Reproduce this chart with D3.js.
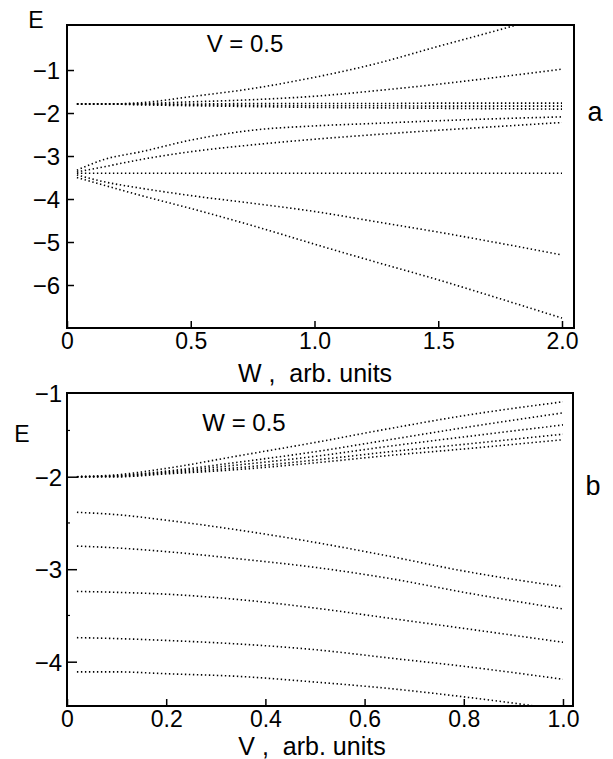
<!DOCTYPE html>
<html>
<head>
<meta charset="utf-8">
<script src="https://cdn.jsdelivr.net/npm/d3@7"></script>
<style>
  body { margin: 0; background: #fff; }
  svg text { font-family: "Liberation Sans", Arial, Helvetica, sans-serif; fill: #000; white-space: pre; }
</style>
</head>
<body>
<div id="vis"></div>
<script>
// panel a: E vs W at V = 0.5
const gridW = [0.04, 0.15, 0.3, 0.5, 0.75, 1.0, 1.25, 1.5, 1.75, 2.0];
const a1 = [-1.79, -1.79, -1.76, -1.62, -1.43, -1.17, -0.85, -0.45, -0.06, 0.35];
const a2 = [-1.79, -1.79, -1.78, -1.74, -1.69, -1.61, -1.48, -1.33, -1.16, -0.98];
const a3 = [-1.79, -1.79, -1.79, -1.79, -1.78, -1.78, -1.78, -1.77, -1.77, -1.77];
const a4 = [-1.79, -1.79, -1.80, -1.81, -1.82, -1.83, -1.83, -1.84, -1.84, -1.84];
const a5 = [-1.79, -1.79, -1.81, -1.83, -1.85, -1.87, -1.88, -1.89, -1.90, -1.91];
const a6 = [-3.33, -3.08, -2.90, -2.63, -2.40, -2.30, -2.24, -2.18, -2.13, -2.09];
const a7 = [-3.37, -3.25, -3.08, -2.90, -2.74, -2.61, -2.50, -2.40, -2.31, -2.22];
const a8 = [-3.40, -3.40, -3.40, -3.40, -3.40, -3.40, -3.40, -3.40, -3.40, -3.40];
const a9 = [-3.44, -3.60, -3.75, -3.92, -4.10, -4.29, -4.53, -4.77, -5.03, -5.30];
const a10 = [-3.50, -3.68, -3.92, -4.22, -4.62, -5.05, -5.47, -5.88, -6.32, -6.77];
const seriesA = [a1, a2, a3, a4, a5, a6, a7, a8, a9, a10];
const ticksWx = [0, 0.5, 1.0, 1.5, 2.0];
const ticksWy = [-1, -2, -3, -4, -5, -6];

// panel b: E vs V at W = 0.5
const gridV = [0.02, 0.1, 0.2, 0.35, 0.5, 0.65, 0.8, 1.0];
const b1 = [-2.0, -1.98, -1.91, -1.77, -1.63, -1.48, -1.34, -1.19];
const b2 = [-2.0, -1.99, -1.94, -1.84, -1.73, -1.60, -1.47, -1.31];
const b3 = [-2.0, -1.99, -1.95, -1.87, -1.78, -1.67, -1.57, -1.44];
const b4 = [-2.0, -2.0, -1.96, -1.90, -1.82, -1.73, -1.65, -1.54];
const b5 = [-2.0, -2.0, -1.97, -1.92, -1.85, -1.77, -1.70, -1.60];
const b6 = [-2.385, -2.41, -2.47, -2.58, -2.71, -2.86, -3.02, -3.19];
const b7 = [-2.75, -2.77, -2.81, -2.89, -2.98, -3.10, -3.25, -3.43];
const b8 = [-3.24, -3.25, -3.27, -3.33, -3.42, -3.53, -3.64, -3.79];
const b9 = [-3.74, -3.75, -3.77, -3.81, -3.87, -3.96, -4.05, -4.19];
const b10 = [-4.11, -4.11, -4.13, -4.16, -4.22, -4.29, -4.38, -4.52];
const seriesB = [b1, b2, b3, b4, b5, b6, b7, b8, b9, b10];
const ticksVx = [0, 0.2, 0.4, 0.6, 0.8, 1.0];
const ticksVy = [-2, -3, -4];
const minorVy = [-1.5, -2.5, -3.5];

const width = 613, height = 759;
const minus = s => s.replace("-", "\u2212");

const svg = d3.select("#vis").append("svg")
  .attr("width", width)
  .attr("height", height);

function drawPanel(opt) {
  const x = d3.scaleLinear().domain(opt.xDomain).range([opt.left, opt.right]);
  const y = d3.scaleLinear().domain(opt.yDomain).range([opt.bottom, opt.top]);
  const g = svg.append("g");

  g.append("clipPath").attr("id", opt.id)
    .append("rect")
    .attr("x", opt.left).attr("y", opt.top)
    .attr("width", opt.right - opt.left).attr("height", opt.bottom - opt.top);

  const line = d3.line()
    .x((d, i) => x(opt.grid[i]))
    .y(d => y(d))
    .curve(d3.curveMonotoneX);

  g.append("g").attr("clip-path", "url(#" + opt.id + ")")
    .selectAll("path")
    .data(opt.series)
    .enter()
    .append("path")
    .attr("d", line)
    .attr("fill", "none")
    .attr("stroke", "#000")
    .attr("stroke-width", 1.6)
    .attr("stroke-dasharray", "1.4 2.6");

  // bottom axis, ticks pointing inward
  const xAxis = g.append("g")
    .attr("transform", "translate(0," + opt.bottom + ")")
    .call(d3.axisBottom(x).tickValues(opt.xTicks).tickSizeInner(-7).tickSizeOuter(0)
      .tickFormat(d => d === 0 ? "0" : d3.format(".1f")(d)));
  xAxis.select(".domain").remove();
  xAxis.selectAll("line").attr("stroke-width", 1.5);
  xAxis.selectAll("text")
    .attr("y", 21)
    .attr("dy", null)
    .attr("font-size", 23)
    .attr("font-family", null);

  const yAxis = g.append("g")
    .attr("transform", "translate(" + opt.left + ",0)")
    .call(d3.axisLeft(y).tickValues(opt.yTicks).tickSizeInner(-opt.yTickLen).tickSizeOuter(0)
      .tickFormat(d => minus(String(d))));
  yAxis.select(".domain").remove();
  yAxis.selectAll("line").attr("stroke-width", 1.5);
  yAxis.selectAll("text")
    .attr("x", -opt.yLabelGap)
    .attr("dy", "0.36em")
    .attr("font-size", 24)
    .attr("font-family", null);

  if (opt.minor) {
    g.selectAll(".minor")
      .data(opt.minor)
      .enter()
      .append("line")
      .attr("x1", opt.left).attr("x2", opt.left + 3)
      .attr("y1", d => y(d)).attr("y2", d => y(d))
      .attr("stroke", "#000").attr("stroke-width", 1.2);
  }

  g.append("rect")
    .attr("x", opt.left).attr("y", opt.top)
    .attr("width", opt.right - opt.left).attr("height", opt.bottom - opt.top)
    .attr("fill", "none").attr("stroke", "#000").attr("stroke-width", 2);

  return { g, x, y };
}

// panel a
const pa = drawPanel({
  id: "clipA", grid: gridW, series: seriesA,
  left: 67, right: 574, top: 25, bottom: 328,
  xDomain: [0, 2.0485], yDomain: [-7.0, 0.047],
  xTicks: ticksWx, yTicks: ticksWy, yTickLen: 7, yLabelGap: 7
});
pa.g.append("text").attr("x", 36).attr("y", 28).attr("text-anchor", "middle")
  .attr("font-size", 23).text("E");
pa.g.append("text").attr("x", 245).attr("y", 52).attr("text-anchor", "middle")
  .attr("font-size", 24).text("V = 0.5");
pa.g.append("text").attr("x", 595).attr("y", 121).attr("text-anchor", "middle")
  .attr("font-size", 27).text("a");
pa.g.append("text").attr("x", 315).attr("y", 382).attr("text-anchor", "middle")
  .attr("font-size", 25).text("W ,  arb. units");

// panel b
const pb = drawPanel({
  id: "clipB", grid: gridV, series: seriesB,
  left: 67, right: 573, top: 393, bottom: 706,
  xDomain: [0, 1.0202], yDomain: [-4.479, -1.095],
  xTicks: ticksVx, yTicks: ticksVy, yTickLen: 10, yLabelGap: 5, minor: minorVy
});
pb.g.append("text").attr("x", 62).attr("y", pb.y(-1.095)).attr("dy", "0.36em")
  .attr("text-anchor", "end").attr("font-size", 24).text("\u22121");
pb.g.append("text").attr("x", 22).attr("y", 442).attr("text-anchor", "middle")
  .attr("font-size", 23).text("E");
pb.g.append("text").attr("x", 244).attr("y", 431).attr("text-anchor", "middle")
  .attr("font-size", 24).text("W = 0.5");
pb.g.append("text").attr("x", 593).attr("y", 495).attr("text-anchor", "middle")
  .attr("font-size", 27).text("b");
pb.g.append("text").attr("x", 312).attr("y", 755).attr("text-anchor", "middle")
  .attr("font-size", 25).text("V ,  arb. units");
</script>
</body>
</html>
